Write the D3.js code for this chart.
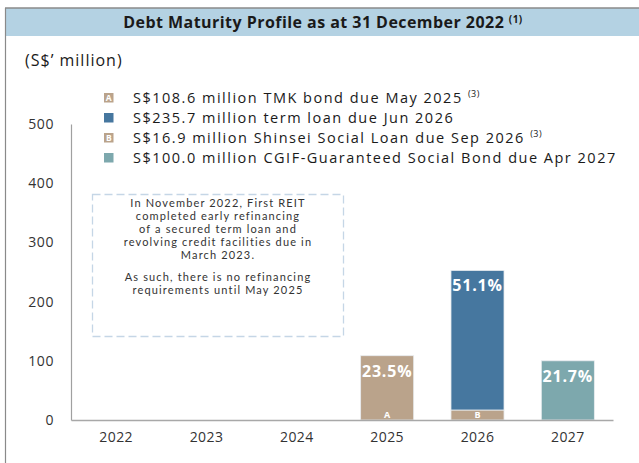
<!DOCTYPE html>
<html><head><meta charset="utf-8">
<script src="https://cdn.jsdelivr.net/npm/d3@7"></script>
<style>
html,body{margin:0;padding:0;background:#fff;}
svg{display:block;font-family:"Open Sans","DejaVu Sans",sans-serif;}
</style></head>
<body>
<svg id="chart" width="639" height="463"></svg>
<script>
const years = ["2022","2023","2024","2025","2026","2027"];
const tmkBond   = [0,0,0,108.6,0,0];
const shinsei   = [0,0,0,0,16.9,0];
const termLoan  = [0,0,0,0,235.7,0];
const cgifBond  = [0,0,0,0,0,100.0];
const pctLabels = ["","","","23.5%","51.1%","21.7%"];
const yTicks = [0,100,200,300,400,500];
const seriesKeys = ["tmk","shinsei","term","cgif"];
const seriesColors = {tmk:"#baa38b", shinsei:"#baa38b", term:"#46779f", cgif:"#7da8ad"};
const seriesTags = {tmk:"A", shinsei:"B", term:"", cgif:""};
const legendOrder = ["tmk","term","shinsei","cgif"];
const legendText = {
  tmk:"S$108.6 million TMK bond due May 2025",
  term:"S$235.7 million term loan due Jun 2026",
  shinsei:"S$16.9 million Shinsei Social Loan due Sep 2026",
  cgif:"S$100.0 million CGIF-Guaranteed Social Bond due Apr 2027"
};
const legendSup = {tmk:"(3)", term:"", shinsei:"(3)", cgif:""};
const titleText = "Debt Maturity Profile as at 31 December 2022";
const titleSup = "(1)";
const unitLabel = "(S$\u2019 million)";
const noteLines = ["In November 2022, First REIT","completed early refinancing","of a secured term loan and","revolving credit facilities due in","March 2023.","","As such, there is no refinancing","requirements until May 2025"];

const table = years.map((y,i)=>({year:y, tmk:tmkBond[i], shinsei:shinsei[i], term:termLoan[i], cgif:cgifBond[i]}));

const svg = d3.select("#chart");
const textCol = "#333333";

// frame & title band
svg.append("rect").attr("x",5).attr("y",8).attr("width",634).attr("height",28).attr("fill","#b4d2e3");
svg.append("line").attr("x1",5).attr("x2",639).attr("y1",8).attr("y2",8).attr("stroke","#8a8a8a").attr("stroke-width",1.5);
svg.append("line").attr("x1",5.5).attr("x2",5.5).attr("y1",8).attr("y2",463).attr("stroke","#8a8a8a").attr("stroke-width",1.2);
const title = svg.append("text").attr("x",323).attr("y",28).attr("text-anchor","middle")
  .attr("font-size",16).attr("font-weight","bold").attr("fill","#1a1a1a").attr("letter-spacing",0.45);
title.append("tspan").text(titleText + " ");
title.append("tspan").text(titleSup).attr("font-size",10).attr("dy",-5);

svg.append("text").attr("x",25).attr("y",66).attr("font-size",16).attr("fill","#1a1a1a")
  .attr("letter-spacing",1).text(unitLabel);

// scales
const x = d3.scaleBand().domain(years).range([71,613]).paddingInner(0.413).paddingOuter(0.2065);
const y = d3.scaleLinear().domain([0,500]).range([420,124]);

// y axis
const yAxis = svg.append("g").attr("transform","translate(71,0)")
  .call(d3.axisLeft(y).tickValues(yTicks).tickSize(0).tickPadding(17));
yAxis.select(".domain").attr("stroke","#a0a0a0").attr("stroke-width",1.2);
yAxis.selectAll("text").attr("font-size",14).attr("fill",textCol).attr("font-family","Open Sans").attr("letter-spacing",0.6);

// note box
const nb = svg.append("g");
nb.append("rect").attr("x",92.5).attr("y",194.5).attr("width",251).attr("height",142)
  .attr("fill","none").attr("stroke","#c5d6e6").attr("stroke-width",1.3).attr("stroke-dasharray","8,4");
noteLines.forEach((l,i)=>{
  if(!l) return;
  const yy = i<5 ? 207 + i*13.1 : 281 + (i-6)*13.1;
  nb.append("text").attr("x",218).attr("y",yy).attr("text-anchor","middle")
    .attr("font-family","Lato").attr("font-size",11).attr("letter-spacing",1.15)
    .attr("fill",textCol).text(l);
});

// bars
const stack = d3.stack().keys(seriesKeys)(table);
const gBars = svg.append("g");
stack.forEach(layer=>{
  const key = layer.key;
  gBars.selectAll(null).data(layer.filter(d=>d[1]-d[0]>0)).enter().append("rect")
    .attr("x",d=>x(d.data.year)).attr("width",x.bandwidth())
    .attr("y",d=>y(d[1])).attr("height",d=>y(d[0])-y(d[1]))
    .attr("fill",seriesColors[key]).attr("stroke","#e8ecef").attr("stroke-width",0.8);
  if(seriesTags[key]){
    gBars.selectAll(null).data(layer.filter(d=>d[1]-d[0]>0)).enter().append("text")
      .attr("x",d=>x(d.data.year)+x.bandwidth()/2).attr("y",d=>y(d[0])-2.5)
      .attr("text-anchor","middle").attr("font-size",9).attr("font-weight","bold").attr("fill","#fff")
      .text(seriesTags[key]);
  }
});

// x axis
const xAxis = svg.append("g").attr("transform","translate(0,420)")
  .call(d3.axisBottom(x).tickSize(0).tickPadding(12));
xAxis.select(".domain").attr("stroke","#a8a8a8").attr("stroke-width",1.5);
xAxis.selectAll("text").attr("font-size",14).attr("fill",textCol).attr("font-family","Open Sans").attr("letter-spacing",0.4);

// percentage labels
svg.append("g").selectAll("text").data(table.filter((d,i)=>pctLabels[i])).enter().append("text")
  .attr("x",d=>x(d.year)+x.bandwidth()/2)
  .attr("y",d=>y(d.tmk+d.shinsei+d.term+d.cgif)+21)
  .attr("text-anchor","middle").attr("font-size",16).attr("font-weight","bold").attr("fill","#fff")
  .attr("letter-spacing",0.8)
  .text(d=>pctLabels[years.indexOf(d.year)]);

// legend
const lg = svg.append("g");
const rowY = [97.5,117.5,137.5,157.5];
legendOrder.forEach((k,i)=>{
  const cy = rowY[i];
  lg.append("rect").attr("x",104).attr("y",cy-4.5).attr("width",9.5).attr("height",9.5).attr("fill",seriesColors[k]);
  if(seriesTags[k]){
    lg.append("text").attr("x",108.8).attr("y",cy+3.2).attr("text-anchor","middle")
      .attr("font-size",8.5).attr("font-weight","bold").attr("fill","#fff").text(seriesTags[k]);
  }
  const t = lg.append("text").attr("x",133).attr("y",cy+5.3).attr("font-size",14.5).attr("fill","#1a1a1a")
    .attr("letter-spacing",1.5);
  t.append("tspan").text(legendText[k] + (legendSup[k]?" ":""));
  if(legendSup[k]) t.append("tspan").text(legendSup[k]).attr("font-size",9).attr("dy",-5.5).attr("letter-spacing",0.5);
});
</script>
</body></html>
